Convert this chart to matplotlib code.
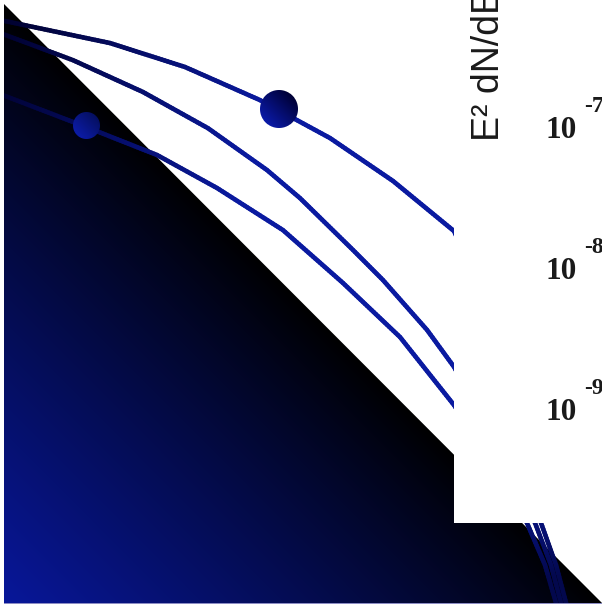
import numpy as np
import matplotlib
matplotlib.use("Agg")
import matplotlib.pyplot as plt
from matplotlib.collections import LineCollection
from matplotlib.patches import Polygon, Rectangle
from matplotlib.offsetbox import OffsetImage, AnnotationBbox
from matplotlib.transforms import blended_transform_factory, offset_copy
from matplotlib.colors import to_rgb

# Spectral energy distributions: energy (GeV) and E^2 dN/dE
energy_a = [0.1, 0.353, 0.835, 1.976, 4.411, 9.09, 18.3, 31.0, 49.7, 59.0, 66.2, 73.4]
flux_a = [6.03e-7, 4.14e-7, 2.80e-7, 1.63e-7, 8.77e-8, 4.35e-8, 1.92e-8,
          3.82e-9, 1.63e-10, 8.22e-11, 4.42e-11, 2.4e-11]

energy_b = [0.1, 0.231, 0.516, 1.088, 2.141, 3.126, 5.742, 8.10, 13.43, 18.3,
            29.3, 46.4, 55.7, 62.5, 69.3]
flux_b = [4.88e-7, 3.13e-7, 1.86e-7, 1.03e-7, 5.20e-8, 3.29e-8, 1.41e-8, 8.63e-9,
          3.82e-9, 2.09e-9, 6.33e-10, 1.63e-10, 8.22e-11, 4.42e-11, 2.4e-11]

energy_c = [0.1, 0.269, 0.606, 1.206, 2.572, 5.121, 9.85, 18.3, 28.3, 42.3, 52.0, 59.0, 65.4]
flux_c = [1.80e-7, 1.05e-7, 6.65e-8, 3.88e-8, 1.95e-8, 8.22e-9, 3.40e-9, 1.12e-9,
          4.42e-10, 1.63e-10, 8.22e-11, 4.42e-11, 2.4e-11]

# Highlighted measurements (energy, flux, marker diameter in px)
point_energy = [2.457, 0.269]
point_flux = [1.42e-7, 1.08e-7]
point_size = [38, 27]

ytick_values = [1e-7, 1e-8, 1e-9]
ytick_exponents = ["-7", "-8", "-9"]
ylabel_text = "E\u00b2 dN/dE"

W, H = 602, 605
fig = plt.figure(figsize=(W / 100, H / 100), dpi=100)
fig.patch.set_facecolor("white")
ax = fig.add_axes([4 / W, 2 / H, 598 / W, 603 / H])
ax.set_xscale("log")
ax.set_yscale("log")
ax.set_xlim(0.1047, 100)
ax.set_ylim(4.42e-11, 8.36e-7)
ax.axis("off")

# Gradient-filled lower-left triangle
blue = np.array(to_rgb("#08179a"))
n = 400
u = (np.arange(n) + 0.5) / n
uu, vv = np.meshgrid(u, u)
t = np.clip(1 - uu - vv / 0.9934, 0, 1) ** 0.9
img = t[..., None] * blue[None, None, :]
im = ax.imshow(img, extent=(0, 1, 0, 1), transform=ax.transAxes, origin="lower",
               aspect="auto", interpolation="bilinear", zorder=1)
tri = Polygon([(0, 0.9934), (0, 0), (1, 0)], closed=True, transform=ax.transAxes)
im.set_clip_path(tri)
ax.set_xlim(0.1047, 100)
ax.set_ylim(4.42e-11, 8.36e-7)

line_dark = np.array(to_rgb("#00002a"))
line_blue = np.array(to_rgb("#0a1aa0"))


def shade(px, py):
    s = np.clip((px + 0.3 * py) / 300.0, 0, 1)
    s = s * (1 - 0.7 * np.clip((py - 470) / 110.0, 0, 1))
    return line_dark[None, :] + (line_blue - line_dark)[None, :] * s[:, None]


def draw_curve(xs, ys, lw=3.3):
    pts = ax.transData.transform(np.column_stack([xs, ys]))
    segs = []
    for p0, p1 in zip(pts[:-1], pts[1:]):
        k = max(2, int(np.hypot(*(p1 - p0)) / 3))
        f = np.linspace(0, 1, k + 1)[:, None]
        sub = p0 + (p1 - p0) * f
        segs.extend(np.stack([sub[:-1], sub[1:]], axis=1))
    segs = np.array(segs)
    mids = segs.mean(axis=1)
    cols = shade(mids[:, 0], H - mids[:, 1])
    inv = ax.transData.inverted()
    lc = LineCollection([inv.transform(s) for s in segs], colors=cols,
                        linewidths=lw, capstyle="round", zorder=2)
    ax.add_collection(lc)


draw_curve(energy_a, flux_a)
draw_curve(energy_b, flux_b)
draw_curve(energy_c, flux_c)


def sphere(d, light, dark):
    light = np.array(to_rgb(light))
    dark = np.array(to_rgb(dark))
    c = (d - 1) / 2.0
    yy, xx = np.mgrid[0:d, 0:d]
    dx = (xx - c) / (d / 2)
    dy = (yy - c) / (d / 2)
    dist = np.hypot(xx - c, yy - c)
    alpha = np.clip(d / 2 - dist + 0.5, 0, 1)
    s = np.clip((dx - dy + 1.4) / 2.8, 0, 1)
    rgb = light[None, None, :] + (dark - light)[None, None, :] * s[..., None]
    return np.dstack([rgb, alpha])


sphere_colors = [("#0a1aa8", "#000035"), ("#0c1ca8", "#050f60")]
for e, f, d, (lc_, dc_) in zip(point_energy, point_flux, point_size, sphere_colors):
    oi = OffsetImage(sphere(d, lc_, dc_), zoom=1, dpi_cor=False)
    ab = AnnotationBbox(oi, (e, f), xycoords="data", frameon=False, pad=0,
                        box_alignment=(0.5, 0.5), zorder=3)
    ax.add_artist(ab)

# White panel holding the axis annotation
ax.add_patch(Rectangle(((454 - 4) / 598, (603 - 523) / 603), 1.0, 1.0,
                       transform=ax.transAxes, facecolor="white",
                       edgecolor="none", zorder=4, clip_on=False))

trans = blended_transform_factory(ax.transAxes, ax.transData)
sup_trans = offset_copy(trans, fig=fig, x=0, y=24, units="dots")
for v, ex in zip(ytick_values, ytick_exponents):
    ax.text((561 - 4) / 598, v, "10", transform=trans, ha="center", va="center",
            fontsize=22.5, family="Liberation Serif", weight="bold",
            color="#1a1a1a", zorder=5, clip_on=False)
    ax.text((584 - 4) / 598, v, ex, transform=sup_trans, ha="left", va="center",
            fontsize=17, family="Liberation Serif", weight="bold",
            color="#1a1a1a", zorder=5, clip_on=False)

ax.text((489 - 4) / 598, (603 - 141) / 603, ylabel_text, transform=ax.transAxes,
        rotation=90, ha="center", va="bottom", fontsize=27,
        family="Liberation Sans", color="#1a1a1a", zorder=5, clip_on=False)

fig.patches.append(Rectangle((4 / W, 1 / H), 1, 1 / H, transform=fig.transFigure,
                             facecolor="#8c8cc4", edgecolor="none", zorder=0))

fig.savefig("out.png", dpi=100, facecolor="white")
